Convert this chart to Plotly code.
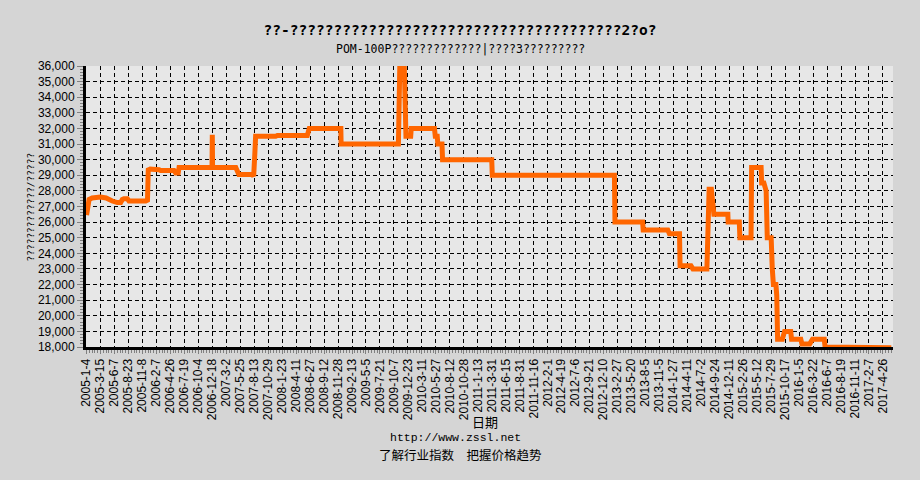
import plotly.graph_objects as go

# tick labels along the bottom, one every 50 trading days
tick_dates = [
    "2005-1-4", "2005-3-15", "2005-6-7", "2005-8-23", "2005-11-8",
    "2006-2-7", "2006-4-26", "2006-7-19", "2006-10-4", "2006-12-18",
    "2007-3-2", "2007-5-25", "2007-8-13", "2007-10-29",
    "2008-1-23", "2008-4-11", "2008-6-27", "2008-9-12", "2008-11-28",
    "2009-2-13", "2009-5-5", "2009-7-21", "2009-10-7", "2009-12-23",
    "2010-3-11", "2010-5-27", "2010-8-12", "2010-10-28",
    "2011-1-13", "2011-3-31", "2011-6-15", "2011-8-31", "2011-11-16",
    "2012-2-1", "2012-4-19", "2012-7-6", "2012-9-21", "2012-12-10",
    "2013-2-27", "2013-5-20", "2013-8-5", "2013-11-5",
    "2014-1-27", "2014-4-11", "2014-7-2", "2014-9-24", "2014-12-11",
    "2015-2-26", "2015-5-12", "2015-7-29", "2015-10-17",
    "2016-1-5", "2016-3-22", "2016-6-7", "2016-8-19", "2016-11-11",
    "2017-2-7", "2017-4-26",
]
tick_step = 50

# trading-day index of each price change, and the price there
day_index = [
    0, 4, 9, 20, 50, 70, 80, 92, 110, 122, 128, 134, 146, 152, 212, 218,
    221, 224, 260, 265, 313, 319, 328, 331, 449, 450, 451, 534, 540, 545,
    593, 598, 602, 605, 677, 683, 790, 797, 910, 911, 1116, 1118, 1121,
    1137, 1140, 1143, 1160, 1162, 1245, 1248, 1255, 1257, 1272, 1274,
    1450, 1452, 1889, 1891, 1990, 1992, 2080, 2086, 2122, 2124, 2163,
    2170, 2220, 2224, 2228, 2236, 2240, 2245, 2295, 2296, 2336, 2338,
    2378, 2380, 2414, 2416, 2424, 2428, 2432, 2436, 2450, 2454, 2458,
    2467, 2470, 2473, 2490, 2498, 2520, 2523, 2556, 2560, 2588, 2598,
    2640, 2643, 2735, 2738, 2880,
]
price = [
    26450, 26900, 27450, 27550, 27600, 27550, 27450, 27350, 27250, 27250,
    27450, 27500, 27500, 27350, 27350, 27400, 29450, 29400, 29350, 29300,
    29300, 29150, 29150, 29500, 29500, 31600, 29500, 29500, 29300, 29050,
    29050, 28950, 30300, 31500, 31500, 31550, 31550, 32000, 32000, 31000,
    31000, 32850, 36000, 36000, 34000, 31500, 31500, 32000, 32000, 31500,
    31500, 31000, 31000, 30000, 30000, 29000, 29000, 26000, 26000, 25500,
    25500, 25250, 25250, 23200, 23200, 23000, 23000, 25400, 28100, 28100,
    27000, 26500, 26500, 26000, 26000, 25000, 25000, 29500, 29500, 28500,
    28500, 28000, 28000, 25000, 25000, 23000, 22000, 22000, 21300, 18500,
    18500, 19000, 19000, 18500, 18500, 18200, 18200, 18500, 18500, 18000,
    18000, 17950, 17950,
]

title = "??-" + "?" * 38 + "2?o?"
subtitle = "POM-100P" + "?" * 13 + "|" + "????3?????????"
y_title = "?" * 13 + "/" + "?" * 5

fig = go.Figure()
fig.add_trace(
    go.Scatter(
        x=day_index,
        y=price,
        mode='lines',
        line=dict(color='#ff6600', width=5),
        showlegend=False,
        hoverinfo='skip'
    )
)

grid = dict(gridcolor='black', gridwidth=1, griddash='4px,3px')

fig.update_layout(
    width=920,
    height=480,
    margin=dict(l=86, r=27, t=66, b=133),
    paper_bgcolor='#d5d5d5',
    plot_bgcolor='#e7e7e7',
    title=dict(
        text=title,
        x=0.5, xanchor='center',
        y=1 - 30 / 480, yanchor='middle',
        font=dict(family='DejaVu Sans Mono', size=14.5, color='black', weight='bold')
    ),
    xaxis=dict(
        range=[-2, 2886],
        tickmode='array',
        tickvals=[i * tick_step for i in range(len(tick_dates))],
        ticktext=tick_dates,
        tickangle=-90,
        tickfont=dict(family='Liberation Sans', size=12, color='black'),
        ticks='outside', ticklen=4, tickcolor='#808080',
        minor=dict(dtick=10, tick0=0, ticks='outside', ticklen=3, tickcolor='#808080', showgrid=False),
        showline=True, linecolor='black', linewidth=3,
        zeroline=False,
        **grid
    ),
    yaxis=dict(
        range=[18000, 36000],
        dtick=1000,
        tickformat=',d',
        tickfont=dict(family='Liberation Sans', size=12, color='black'),
        ticks='outside', ticklen=6, tickcolor='#808080',
        minor=dict(dtick=200, ticks='outside', ticklen=3, tickcolor='#808080', showgrid=False),
        showline=True, linecolor='black', linewidth=3,
        zeroline=False,
        **grid
    ),
    annotations=[
        dict(text=subtitle, xref='paper', yref='paper', x=0.464, y=1 + 17 / 281,
             showarrow=False, xanchor='center', yanchor='middle',
             font=dict(family='DejaVu Sans Mono', size=11.5, color='black')),
        dict(text=y_title, xref='paper', yref='paper', x=-56 / 807, y=0.5,
             textangle=-90, showarrow=False, xanchor='center', yanchor='middle',
             font=dict(family='DejaVu Sans Mono', size=9.5, color='black')),
        dict(text="日期", xref='paper', yref='paper', x=0.494, y=-74 / 281,
             showarrow=False, xanchor='center', yanchor='middle',
             font=dict(family='Noto Sans CJK SC', size=13, color='black')),
        dict(text="http://www.zssl.net", xref='paper', yref='paper', x=0.458, y=-90 / 281,
             showarrow=False, xanchor='center', yanchor='middle',
             font=dict(family='Liberation Mono', size=11.5, color='black')),
        dict(text="了解行业指数　把握价格趋势", xref='paper', yref='paper', x=0.464, y=-107 / 281,
             showarrow=False, xanchor='center', yanchor='middle',
             font=dict(family='Noto Sans CJK SC', size=12.5, color='black')),
    ]
)

# drop the browser's default 8px page margin so the figure sits at 0,0
fig.write_html(
    "out.html",
    config={'displayModeBar': False},
    post_script="document.body.style.margin='0';"
)
